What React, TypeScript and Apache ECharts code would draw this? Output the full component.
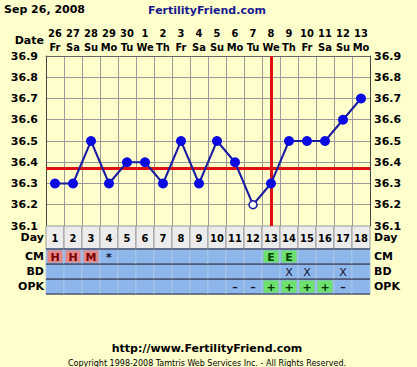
import React, { useEffect, useRef } from "react";
import * as echarts from "echarts";

const dates = ["26","27","28","29","30","1","2","3","4","5","6","7","8","9","10","11","12","13"];
const weekdays = ["Fr","Sa","Su","Mo","Tu","We","Th","Fr","Sa","Su","Mo","Tu","We","Th","Fr","Sa","Su","Mo"];
const cycleDays = ["1","2","3","4","5","6","7","8","9","10","11","12","13","14","15","16","17","18"];
const temps = [36.3,36.3,36.5,36.3,36.4,36.4,36.3,36.5,36.3,36.5,36.4,36.2,36.3,36.5,36.5,36.5,36.6,36.7];
const openPointDays = [12];
const coverline = 36.37;
const ovulationDay = 13;
const yTicks = ["36.1","36.2","36.3","36.4","36.5","36.6","36.7","36.8","36.9"];
const tableRows = ["OPK", "BD", "CM"];
const cmValues = ["H","H","M","*","","","","","","","","","E","E","","","",""];
const bdValues = ["","","","","","","","","","","","","","X","X","","X",""];
const opkValues = ["","","","","","","","","","","-","-","+","+","+","+","-",""];

const FONT = "DejaVu Sans";
const NARROW = "'DejaVu Sans Condensed', 'Liberation Sans', sans-serif";
const BG = "#FFFFCC";
const BLUE_CELL = "#8DB6EA";

function cellStyle(row: string, text: string) {
  if (row === "CM" && (text === "H" || text === "M")) return { fill: "#E48888", color: "#7A0000" };
  if (row === "CM" && text === "E") return { fill: "#6EE06E", color: "#004400" };
  if (row === "OPK" && text === "+") return { fill: "#6EE06E", color: "#003300" };
  return { fill: null, color: "#111133" };
}

export default function App() {
  const ref = useRef<HTMLDivElement>(null);
  useEffect(() => {
    document.body.style.margin = "0";
    const chart = echarts.init(ref.current!, null, { renderer: "svg" });

    const dayCells = cycleDays.map((d, i) => ({ value: [i, 0], text: d }));
    const rowValues: Record<string, string[]> = { CM: cmValues, BD: bdValues, OPK: opkValues };
    const tableCells: any[] = [];
    tableRows.forEach((row, r) => {
      rowValues[row].forEach((t, i) => {
        tableCells.push({ value: [i, r], text: t, row });
      });
    });

    const lineData = temps.map((v, i) =>
      openPointDays.includes(i + 1)
        ? { value: v, symbolSize: 8, itemStyle: { color: "#ffffff", borderColor: "#1a1aa0", borderWidth: 1.5 } }
        : v
    );

    const labelStyle = { fontFamily: FONT, fontWeight: "bold" as const, fontSize: 11, color: "#000" };
    const headStyle = { fontFamily: NARROW, fontWeight: "bold" as const, fontSize: 11, color: "#000" };

    chart.setOption({
      animation: false,
      backgroundColor: BG,
      textStyle: { fontFamily: FONT },
      grid: [
        { left: 46, top: 56, width: 324, height: 170 },
        { left: 46, top: 226, width: 324, height: 23 },
        { left: 46, top: 249, width: 324, height: 45 },
      ],
      xAxis: [
        {
          gridIndex: 0, type: "category", position: "top", data: dates, boundaryGap: true,
          axisLine: { show: true, lineStyle: { color: "#666" } },
          axisTick: { show: false },
          splitLine: { show: true, interval: 0, lineStyle: { color: "#9a9a9a", width: 1 } },
          axisLabel: {
            interval: 0, margin: 2,
            formatter: (v: string, i: number) => `{d|${v}}\n{w|${weekdays[i]}}`,
            rich: {
              d: { ...headStyle, lineHeight: 14 },
              w: { ...headStyle, lineHeight: 14 },
            },
          },
        },
        { gridIndex: 1, type: "category", data: cycleDays, show: false },
        { gridIndex: 2, type: "category", data: cycleDays, show: false },
      ],
      yAxis: [
        {
          gridIndex: 0, type: "value", min: 36.1, max: 36.9, interval: 0.1, position: "left",
          axisLine: { show: true, lineStyle: { color: "#444" } },
          axisTick: { show: false },
          splitLine: { show: true, lineStyle: { color: "#9a9a9a", width: 1 } },
          axisLabel: { ...labelStyle, margin: 8, formatter: (v: number) => yTicks[Math.round((v - 36.1) * 10)] ?? v.toFixed(1) },
        },
        {
          gridIndex: 0, type: "value", min: 36.1, max: 36.9, interval: 0.1, position: "right",
          axisLine: { show: true, lineStyle: { color: "#444" } },
          axisTick: { show: false },
          splitLine: { show: false },
          axisLabel: { ...labelStyle, margin: 4, formatter: (v: number) => yTicks[Math.round((v - 36.1) * 10)] ?? v.toFixed(1) },
        },
        {
          gridIndex: 1, type: "category", data: ["Day"], position: "left",
          axisLine: { show: false }, axisTick: { show: false },
          axisLabel: { ...labelStyle, margin: 2 },
        },
        {
          gridIndex: 1, type: "category", data: ["Day"], position: "right",
          axisLine: { show: false }, axisTick: { show: false },
          axisLabel: { ...labelStyle, margin: 4 },
        },
        {
          gridIndex: 2, type: "category", data: tableRows, position: "left",
          axisLine: { show: false }, axisTick: { show: false },
          axisLabel: { ...labelStyle, margin: 2 },
        },
        {
          gridIndex: 2, type: "category", data: tableRows, position: "right",
          axisLine: { show: false }, axisTick: { show: false },
          axisLabel: { ...labelStyle, margin: 4 },
        },
      ],
      series: [
        {
          type: "line", xAxisIndex: 0, yAxisIndex: 0, data: lineData,
          symbol: "circle", symbolSize: 10,
          itemStyle: { color: "#0a0ae0" },
          lineStyle: { color: "#1a1aa0", width: 2 },
          z: 5,
          markLine: {
            silent: true, symbol: "none", label: { show: false },
            lineStyle: { color: "#dd1111", width: 3, type: "solid" },
            data: [{ yAxis: coverline }, { xAxis: ovulationDay - 1 }],
            z: 3,
          },
        },
        {
          type: "custom", xAxisIndex: 1, yAxisIndex: 2, data: dayCells,
          renderItem: (params: any, api: any) => {
            const c = api.coord([api.value(0), api.value(1)]);
            const s = api.size([1, 1]);
            const x = c[0] - s[0] / 2, y = c[1] - s[1] / 2;
            return {
              type: "group",
              children: [
                { type: "rect", shape: { x, y, width: s[0], height: s[1] }, style: { fill: "#ECECEC", stroke: "#9a9a9a", lineWidth: 1 } },
                { type: "text", style: { x: c[0], y: c[1] + 1, text: dayCells[params.dataIndex].text, align: "center", verticalAlign: "middle", fontFamily: NARROW, fontWeight: "bold", fontSize: 11, fill: "#000" } },
              ],
            };
          },
        },
        {
          type: "custom", xAxisIndex: 2, yAxisIndex: 4, data: tableCells,
          renderItem: (params: any, api: any) => {
            const cell = tableCells[params.dataIndex];
            const c = api.coord([api.value(0), api.value(1)]);
            const s = api.size([1, 1]);
            const x = c[0] - s[0] / 2, y = c[1] - s[1] / 2;
            const st = cellStyle(cell.row, cell.text);
            const children: any[] = [
              { type: "rect", shape: { x, y, width: s[0], height: s[1] }, style: { fill: BLUE_CELL, stroke: "#a9c4e6", lineWidth: 1 } },
            ];
            if (st.fill) {
              children.push({ type: "rect", shape: { x: x + 1.5, y: y + 1.5, width: s[0] - 3, height: s[1] - 3 }, style: { fill: st.fill } });
            }
            children.push({ type: "line", shape: { x1: x, y1: y, x2: x + s[0], y2: y }, style: { stroke: "#1c1c3a", lineWidth: 1 } });
            children.push({ type: "line", shape: { x1: x, y1: y + s[1], x2: x + s[0], y2: y + s[1] }, style: { stroke: "#1c1c3a", lineWidth: 1 } });
            if (cell.text) {
              const isBold = cell.row !== "BD";
              children.push({ type: "text", style: { x: c[0], y: c[1] + 1, text: cell.text === "-" ? "–" : cell.text, align: "center", verticalAlign: "middle", fontFamily: FONT, fontWeight: isBold ? "bold" : "normal", fontSize: 11, fill: st.color } });
            }
            return { type: "group", children };
          },
        },
      ],
      graphic: [
        { type: "text", left: 4, top: 4, style: { text: "Sep 26, 2008", fontFamily: FONT, fontWeight: "bold", fontSize: 11, fill: "#000" } },
        { type: "text", x: 207, y: 10, style: { text: "FertilityFriend.com", align: "center", verticalAlign: "middle", fontFamily: FONT, fontWeight: "bold", fontSize: 11, fill: "#1a1a8c" } },
        { type: "text", x: 44, y: 40, style: { text: "Date", align: "right", verticalAlign: "middle", fontFamily: FONT, fontWeight: "bold", fontSize: 11, fill: "#000" } },
        { type: "text", x: 207, y: 348, style: { text: "http://www.FertilityFriend.com", align: "center", verticalAlign: "middle", fontFamily: FONT, fontWeight: "bold", fontSize: 11, fill: "#000" } },
        { type: "text", x: 207, y: 363, style: { text: "Copyright 1998-2008 Tamtris Web Services Inc. - All Rights Reserved.", align: "center", verticalAlign: "middle", fontFamily: FONT, fontSize: 8, fill: "#000" } },
      ],
    });
    return () => chart.dispose();
  }, []);
  return <div ref={ref} style={{ width: 417, height: 367 }} />;
}
